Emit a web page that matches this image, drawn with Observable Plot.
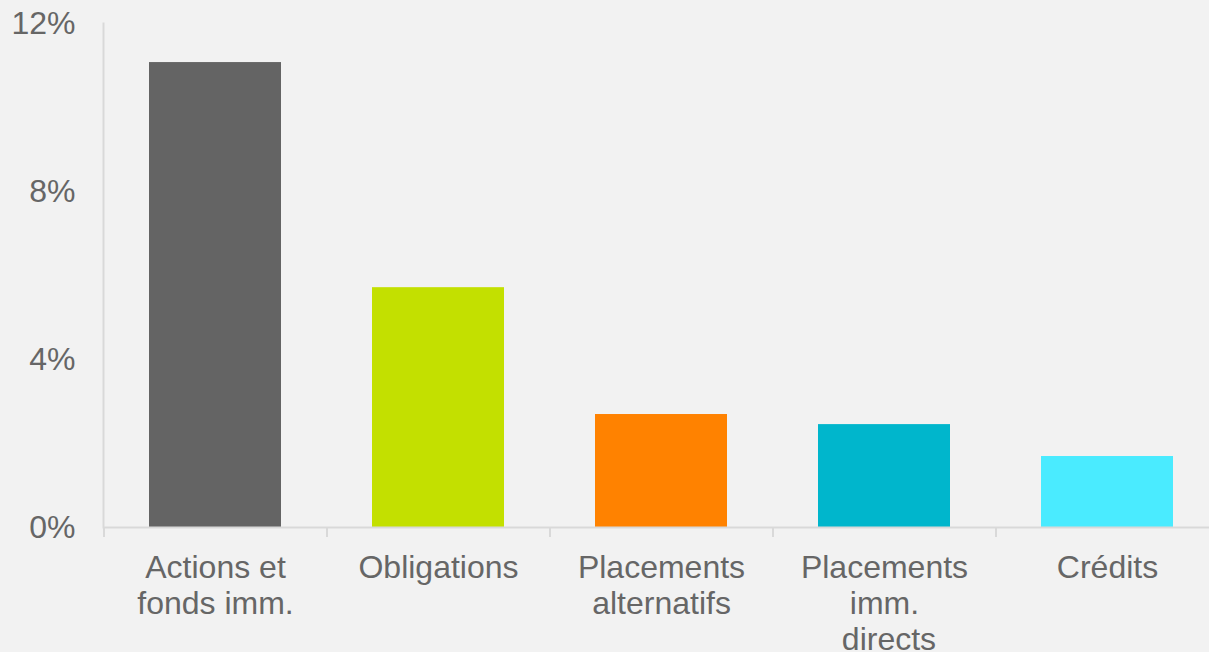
<!DOCTYPE html>
<html>
<head>
<meta charset="utf-8">
<script src="https://cdn.jsdelivr.net/npm/d3@7"></script>
<script src="https://cdn.jsdelivr.net/npm/@observablehq/plot@0.6"></script>
<style>
  html, body { margin: 0; padding: 0; background: #f2f2f2; }
  #chart svg { display: block; background: #f2f2f2; }
</style>
</head>
<body>
<div id="chart"></div>
<script>
const categories = ["Actions et fonds imm.", "Obligations", "Placements alternatifs", "Placements imm. directs", "Crédits"];
const labels = ["Actions et\nfonds imm.", "Obligations", "Placements\nalternatifs", "Placements\nimm.\n directs", "Crédits"];
const values = [11.07, 5.71, 2.69, 2.45, 1.69];
const colors = ["#646464", "#c3e000", "#ff8200", "#00b6cc", "#4aebff"];
const yTicks = [0, 4, 8, 12];

const data = categories.map((c, i) => ({category: c, label: labels[i], value: values[i]}));

const W = 1209, H = 652;
const mLeft = 103, mTop = 23, mBottom = 125;
const xRange = [103, 1218];
const step = (xRange[1] - xRange[0]) / categories.length;
const font = "Liberation Sans, Arial, Helvetica, sans-serif";
const textColor = "#666666";
const lineColor = "#d9d9d9";

const chart = Plot.plot({
  width: W,
  height: H,
  marginLeft: mLeft,
  marginRight: 0,
  marginTop: mTop,
  marginBottom: mBottom,
  style: {background: "#f2f2f2", fontFamily: font, color: textColor},
  x: {domain: categories, range: xRange, paddingInner: 0.41, paddingOuter: 0.205, label: null},
  y: {domain: [0, 12], label: null},
  color: {domain: categories, range: colors},
  marks: [
    Plot.frame({anchor: "left", stroke: lineColor, strokeWidth: 2}),
    Plot.barY(data, {x: "category", y: "value", fill: "category"}),
    Plot.ruleY([0], {stroke: lineColor, strokeWidth: 2}),
    Plot.axisX({tickSize: 10, tickFormat: () => "", label: null, dx: -step / 2, stroke: lineColor, strokeWidth: 2}),
    Plot.text(data, {x: "category", y: () => 0, text: "label", dy: 25, lineAnchor: "top", lineHeight: 1.13, fontSize: 32, fill: textColor, fontFamily: font}),
    Plot.axisY({ticks: yTicks, tickSize: 0, tickPadding: 28, tickFormat: d => d + "%", label: null, fontSize: 32, fill: textColor, fontFamily: font})
  ]
});
document.getElementById("chart").appendChild(chart);
</script>
</body>
</html>
